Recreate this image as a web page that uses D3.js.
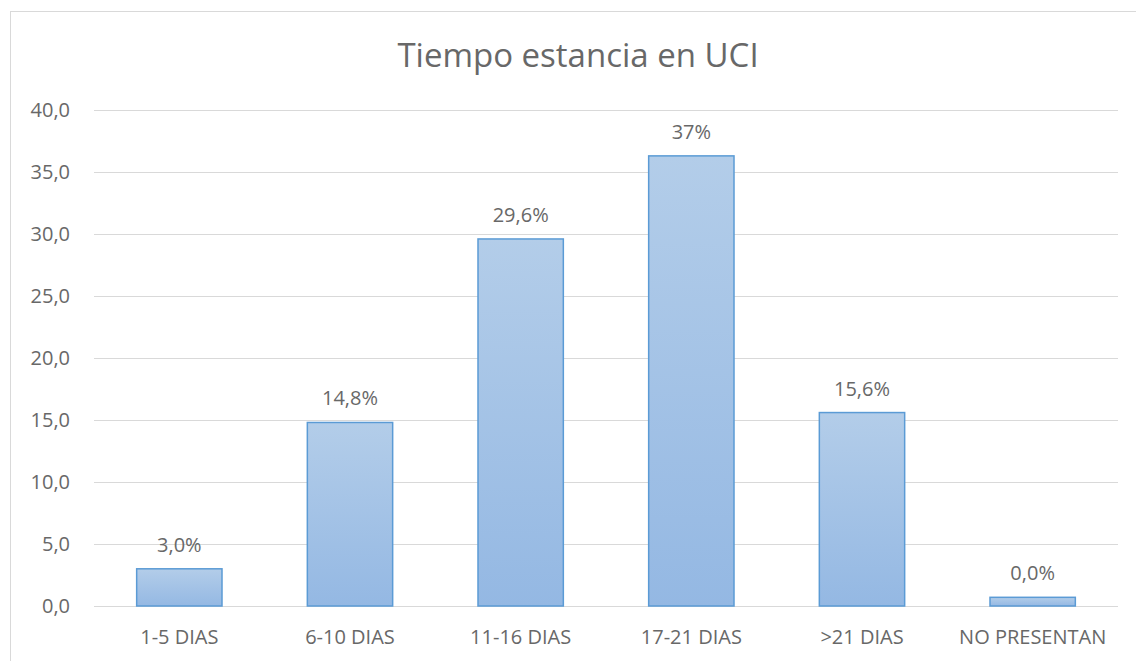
<!DOCTYPE html>
<html>
<head>
<meta charset="utf-8">
<script src="https://cdn.jsdelivr.net/npm/d3@7"></script>
<style>
  body { margin: 0; background: #fff; }
  text { font-family: "Open Sans", sans-serif; fill: #686868; }
</style>
</head>
<body>
<div id="chart"></div>
<script>
// data
var categories = ["1-5 DIAS", "6-10 DIAS", "11-16 DIAS", "17-21 DIAS", ">21 DIAS", "NO PRESENTAN"];
var values = [3.0, 14.8, 29.6, 36.3, 15.6, 0.7];
var valueLabels = ["3,0%", "14,8%", "29,6%", "37%", "15,6%", "0,0%"];
var yTicks = [0, 5, 10, 15, 20, 25, 30, 35, 40];

var svgWidth = 1136;
var svgHeight = 661;

var margin = { top: 110, right: 18, bottom: 55, left: 94 };
var width = svgWidth - margin.left - margin.right;
var height = svgHeight - margin.top - margin.bottom;

var svg = d3.select("#chart")
  .append("svg")
  .attr("width", svgWidth)
  .attr("height", svgHeight);

// gradient for bars
var grad = svg.append("defs").append("linearGradient")
  .attr("id", "barFill")
  .attr("x1", 0).attr("y1", 0).attr("x2", 0).attr("y2", 1);
grad.append("stop").attr("offset", "0%").attr("stop-color", "#b3cde9");
grad.append("stop").attr("offset", "100%").attr("stop-color", "#94b8e3");

// chart border (right and bottom edges fall outside the picture)
svg.append("rect")
  .attr("x", 10.5)
  .attr("y", 11.5)
  .attr("width", svgWidth + 20)
  .attr("height", svgHeight + 20)
  .attr("fill", "none")
  .attr("stroke", "#d9d9d9")
  .attr("stroke-width", 1);

// title
svg.append("text")
  .attr("x", 578)
  .attr("y", 67)
  .attr("text-anchor", "middle")
  .attr("font-size", "33px")
  .text("Tiempo estancia en UCI");

var chartGroup = svg.append("g")
  .attr("transform", `translate(${margin.left}, ${margin.top})`);

var xBandScale = d3.scaleBand()
  .domain(categories)
  .range([0, width])
  .paddingInner(0.5)
  .paddingOuter(0.25);

var yLinearScale = d3.scaleLinear()
  .domain([0, 40])
  .range([height, 0]);

var fmt = function (d) { return d3.format(".1f")(d).replace(".", ","); };

// gridlines + y labels
var leftAxis = d3.axisLeft(yLinearScale)
  .tickValues(yTicks)
  .tickSize(-width)
  .tickPadding(24)
  .tickFormat(fmt);

var yAxis = chartGroup.append("g").attr("class", "y-axis").call(leftAxis);
yAxis.select(".domain").remove();
yAxis.selectAll(".tick line")
  .attr("stroke", "#d9d9d9")
  .attr("stroke-width", 1);
yAxis.selectAll(".tick text")
  .attr("font-size", "20px")
  .attr("fill", "#686868")
  .style("font-family", "'Open Sans', sans-serif");

// x labels
var bottomAxis = d3.axisBottom(xBandScale).tickSize(0).tickPadding(24);
var xAxis = chartGroup.append("g")
  .attr("transform", `translate(0, ${height})`)
  .call(bottomAxis);
xAxis.select(".domain").remove();
xAxis.selectAll(".tick text")
  .attr("font-size", "20px")
  .attr("fill", "#686868")
  .style("font-family", "'Open Sans', sans-serif");

// bars
chartGroup.selectAll("rect.bar")
  .data(values)
  .enter()
  .append("rect")
  .attr("class", "bar")
  .attr("x", (d, i) => xBandScale(categories[i]))
  .attr("y", (d) => yLinearScale(d))
  .attr("width", xBandScale.bandwidth())
  .attr("height", (d) => height - yLinearScale(d))
  .attr("fill", "url(#barFill)")
  .attr("stroke", "#5b9bd5")
  .attr("stroke-width", 1.5);

// value labels
chartGroup.selectAll("text.valueLabel")
  .data(values)
  .enter()
  .append("text")
  .attr("class", "valueLabel")
  .attr("x", (d, i) => xBandScale(categories[i]) + xBandScale.bandwidth() / 2)
  .attr("y", (d) => yLinearScale(d) - 17)
  .attr("text-anchor", "middle")
  .attr("font-size", "20px")
  .text((d, i) => valueLabels[i]);
</script>
</body>
</html>
